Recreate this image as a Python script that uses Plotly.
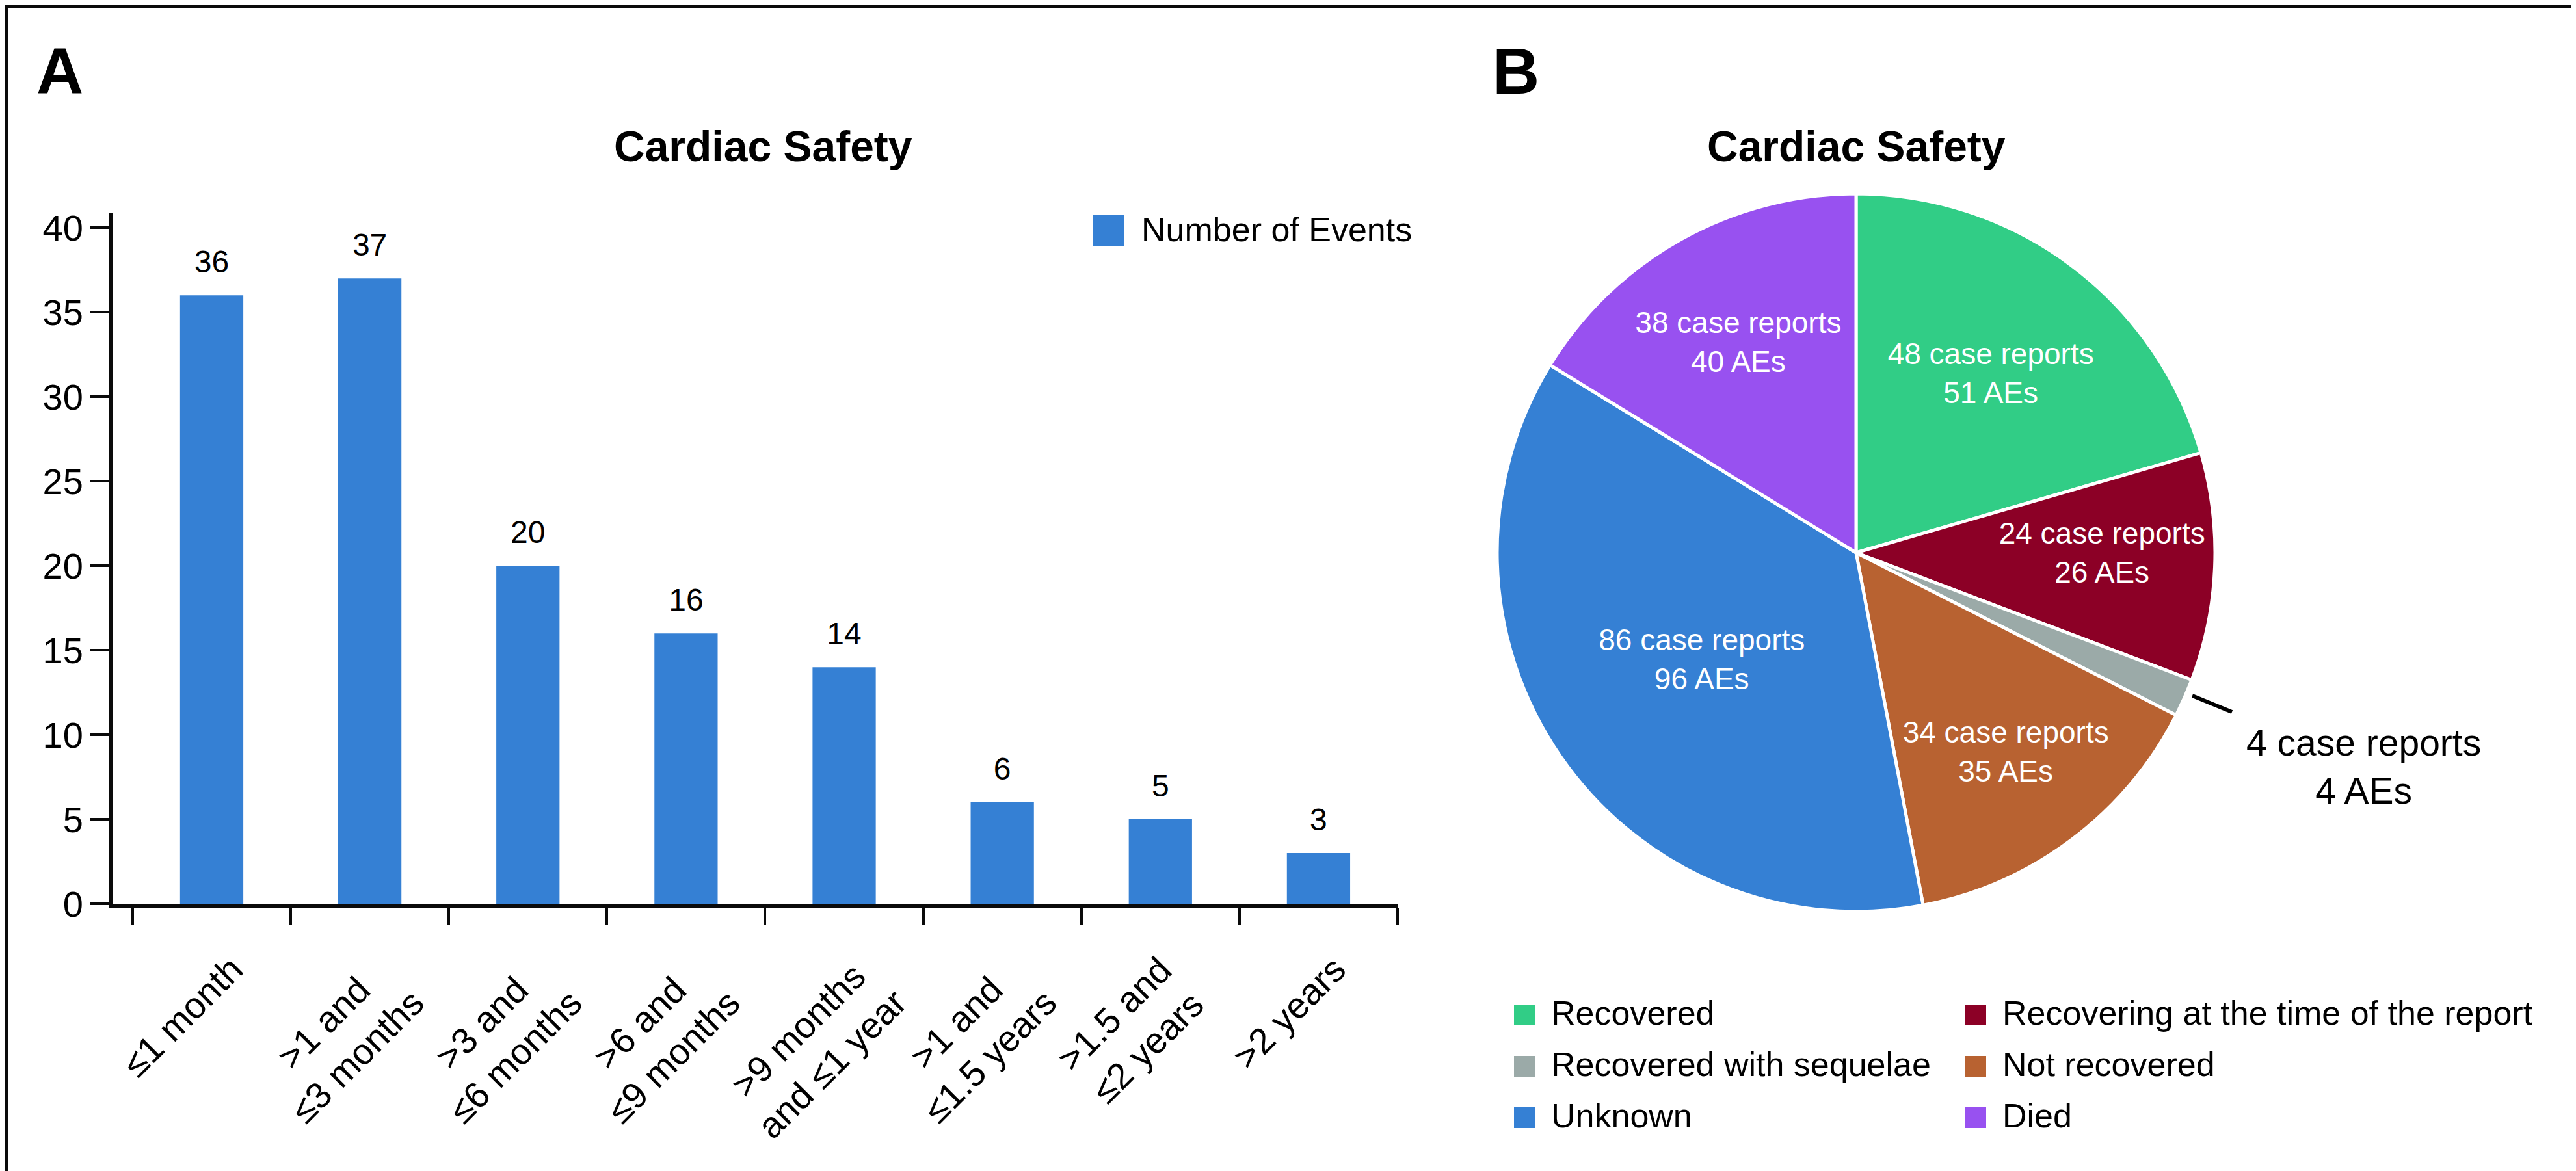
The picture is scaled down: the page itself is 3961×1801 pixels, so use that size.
import plotly.graph_objects as go

W, H = 3961, 1801
FONT = "Liberation Sans, Arial, Helvetica, sans-serif"

# ---------------- Panel A data ----------------
period_labels = ["≤1 month", ">1 and<br>≤3 months", ">3 and<br>≤6 months", ">6 and<br>≤9 months",
                 ">9 months<br>and ≤1 year", ">1 and<br>≤1.5 years", ">1.5 and<br>≤2 years", ">2 years"]
event_counts = [36, 37, 20, 16, 14, 6, 5, 3]
y_tick_values = [0, 5, 10, 15, 20, 25, 30, 35, 40]
bar_series_name = "Number of Events"
bar_color = "#3580D4"

# ---------------- Panel B data ----------------
outcome_labels = ["Recovered", "Recovering at the time of the report", "Recovered with sequelae",
                  "Not recovered", "Unknown", "Died"]
case_reports = [48, 24, 4, 34, 86, 38]
adverse_events = [51, 26, 4, 35, 96, 40]
outcome_colors = ["#31CD86", "#8C0026", "#9BAAA8", "#B86231", "#3580D4", "#9851F0"]
outside_slice = "Recovered with sequelae"

panel_title = "Cardiac Safety"


def fx(px):
    return px / W


def fy(py):
    return 1 - py / H


fig = go.Figure()

# Bars
fig.add_trace(go.Bar(
    x=period_labels, y=event_counts, name=bar_series_name,
    marker=dict(color=bar_color, line=dict(width=0)),
    showlegend=False, hoverinfo="x+y",
))
# value labels above bars
fig.add_trace(go.Scatter(
    x=period_labels, y=event_counts, mode="markers+text",
    text=[str(v) for v in event_counts], textposition="top center",
    textfont=dict(family=FONT, size=48, color="black"),
    marker=dict(size=35, opacity=0), showlegend=False, hoverinfo="skip",
    cliponaxis=False,
))

# Pie
pie_text = []
pie_pos = []
for lab, c, a in zip(outcome_labels, case_reports, adverse_events):
    if lab == outside_slice:
        pie_text.append("")
        pie_pos.append("none")
    else:
        pie_text.append(f"{c} case reports<br>{a} AEs")
        pie_pos.append("inside")

fig.add_trace(go.Pie(
    labels=outcome_labels, values=case_reports, text=pie_text,
    textinfo="text", textposition=pie_pos, insidetextorientation="horizontal",
    insidetextfont=dict(family=FONT, size=46, color="white"),
    marker=dict(colors=outcome_colors, line=dict(color="white", width=5)),
    sort=False, direction="clockwise", rotation=0,
    domain=dict(x=[fx(2294), fx(3398)], y=[fy(1394), fy(290)]),
    showlegend=False, hoverinfo="label+value",
))

annotations = []
shapes = []

# x tick labels (rotated, centered lines)
for lab in period_labels:
    annotations.append(dict(
        x=lab, xref="x", y=fy(1448), yref="paper", text=lab, showarrow=False,
        textangle=-45, xanchor="center", yanchor="top", xshift=-45, align="center",
        font=dict(family=FONT, size=56, color="black"),
    ))

# panel letters
annotations.append(dict(x=fx(46), y=fy(101), xref="paper", yref="paper", text="<b>A</b>",
                        showarrow=False, xanchor="left", yanchor="middle",
                        font=dict(family=FONT, size=100, color="black")))
annotations.append(dict(x=fx(2285), y=fy(101), xref="paper", yref="paper", text="<b>B</b>",
                        showarrow=False, xanchor="left", yanchor="middle",
                        font=dict(family=FONT, size=100, color="black")))
# titles
for cx in (1165, 2846):
    annotations.append(dict(x=fx(cx), y=fy(217), xref="paper", yref="paper",
                            text=f"<b>{panel_title}</b>", showarrow=False,
                            xanchor="center", yanchor="middle",
                            font=dict(family=FONT, size=66, color="black")))

# legend A
shapes.append(dict(type="rect", xref="paper", yref="paper", x0=fx(1673), x1=fx(1720),
                   y0=fy(371), y1=fy(323), fillcolor=bar_color, line=dict(width=0)))
annotations.append(dict(x=fx(1745), y=fy(345), xref="paper", yref="paper", text=bar_series_name,
                        showarrow=False, xanchor="left", yanchor="middle",
                        font=dict(family=FONT, size=52, color="black")))

# legend B (2 columns, row-major)
col_x = [2320, 3014]
row_y = [1553, 1632, 1711]
for i, (lab, col) in enumerate(zip(outcome_labels, outcome_colors)):
    cx = col_x[i % 2]
    cy = row_y[i // 2]
    shapes.append(dict(type="rect", xref="paper", yref="paper", x0=fx(cx), x1=fx(cx + 32),
                       y0=fy(cy + 16), y1=fy(cy - 16), fillcolor=col, line=dict(width=0)))
    annotations.append(dict(x=fx(cx + 55), y=fy(cy - 3), xref="paper", yref="paper", text=lab,
                            showarrow=False, xanchor="left", yanchor="middle",
                            font=dict(family=FONT, size=52, color="black")))

# outside label for small slice
k = outcome_labels.index(outside_slice)
annotations.append(dict(x=fx(3626), y=fy(1171), xref="paper", yref="paper",
                        text=f"{case_reports[k]} case reports<br>{adverse_events[k]} AEs",
                        showarrow=False, xanchor="center", yanchor="middle", align="center",
                        font=dict(family=FONT, size=57, color="black")))
shapes.append(dict(type="line", xref="paper", yref="paper", x0=fx(3363), y0=fy(1062),
                   x1=fx(3424), y1=fy(1087), line=dict(color="black", width=6)))

# frame
shapes.append(dict(type="rect", xref="paper", yref="paper", x0=0, x1=1, y0=0, y1=1,
                   line=dict(color="#0a0a0a", width=10), fillcolor="rgba(0,0,0,0)"))

fig.update_layout(
    width=W, height=H, margin=dict(l=0, r=0, t=0, b=0),
    paper_bgcolor="white", plot_bgcolor="white",
    showlegend=False, bargap=0.6,
    font=dict(family=FONT, color="black"),
    xaxis=dict(domain=[fx(165), fx(2141)], showline=True, linecolor="#0a0a0a", linewidth=7,
               ticks="outside", tickson="boundaries", ticklen=26, tickwidth=4, tickcolor="#0a0a0a",
               showticklabels=False, showgrid=False, zeroline=False, automargin=False,
               fixedrange=True),
    yaxis=dict(domain=[fy(1382), fy(319)], range=[0, 40.9], showline=True, linecolor="#0a0a0a",
               linewidth=6, ticks="outside", ticklen=28, tickwidth=4, tickcolor="#0a0a0a",
               tickvals=y_tick_values, tickfont=dict(family=FONT, size=56, color="black"),
               showgrid=False, zeroline=False, automargin=False, fixedrange=True),
    annotations=annotations, shapes=shapes,
)

fig.write_html("out.html")
